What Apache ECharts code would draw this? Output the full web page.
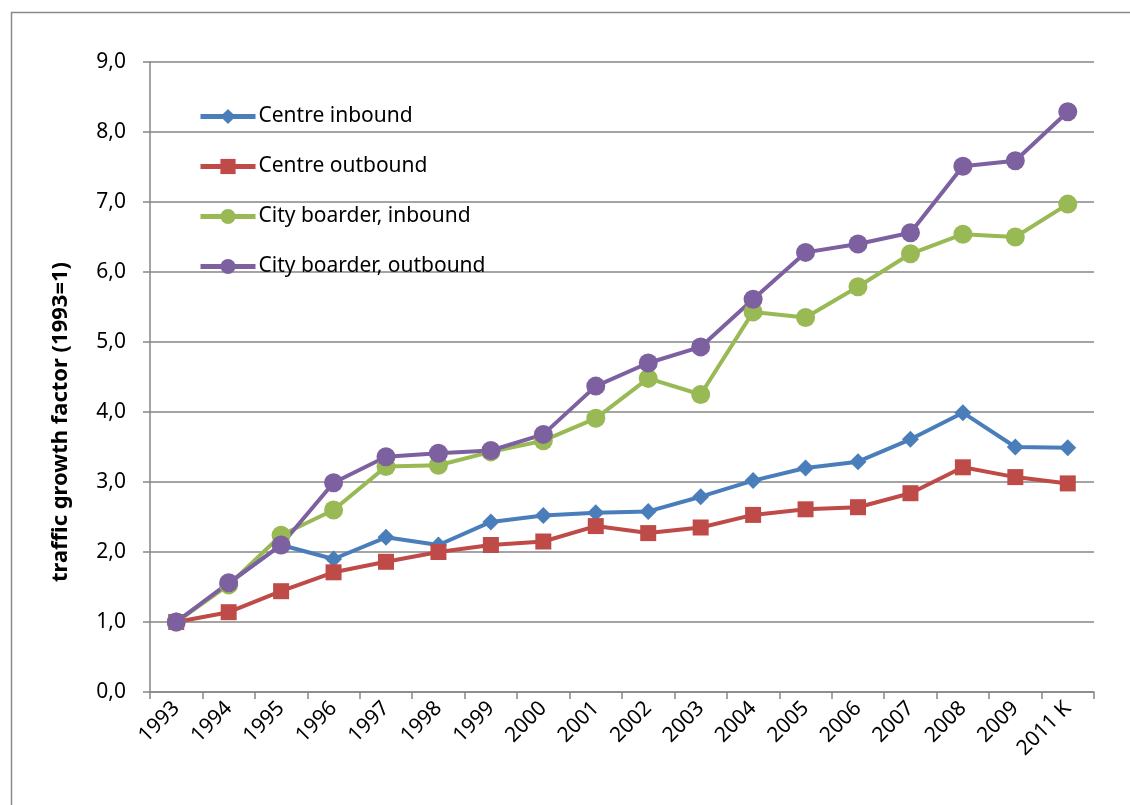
<!DOCTYPE html>
<html>
<head>
<meta charset="utf-8">
<script src="https://cdn.jsdelivr.net/npm/echarts@6/dist/echarts.min.js"></script>
<style>
html,body{margin:0;padding:0;background:#fff;}
#chart{width:1130px;height:805px;}
</style>
</head>
<body>
<div id="chart"></div>
<script>
const categories = ['1993','1994','1995','1996','1997','1998','1999','2000','2001','2002','2003','2004','2005','2006','2007','2008','2009','2011 K'];
const centreInbound = [1.0,1.55,2.1,1.9,2.21,2.1,2.43,2.52,2.56,2.58,2.79,3.02,3.2,3.29,3.61,3.99,3.5,3.49];
const centreOutbound = [1.0,1.14,1.44,1.71,1.86,2.0,2.1,2.15,2.37,2.27,2.35,2.53,2.61,2.64,2.84,3.21,3.07,2.98];
const cityInbound = [1.0,1.53,2.24,2.6,3.22,3.24,3.43,3.59,3.91,4.48,4.25,5.43,5.35,5.79,6.26,6.54,6.5,6.97];
const cityOutbound = [1.0,1.56,2.1,2.99,3.36,3.41,3.45,3.68,4.37,4.7,4.93,5.61,6.28,6.4,6.56,7.51,7.59,8.29];
const seriesNames = ['Centre inbound','Centre outbound','City boarder, inbound','City boarder, outbound'];
const yTicks = {min:0, max:9, interval:1};

const colors = ['#4A7EBB','#BE4B48','#98B954','#7D60A0'];
const font = '"Noto Sans", "Open Sans", sans-serif';

const chart = echarts.init(document.getElementById('chart'));
function mk(name, data, color, symbol, size){
  return {
    name: name, type: 'line', data: data,
    symbol: symbol, symbolSize: size,
    lineStyle: {color: color, width: 4},
    itemStyle: {color: color},
    emphasis: {disabled: true},
    animation: false, z: 3
  };
}
chart.setOption({
  animation: false,
  color: colors,
  graphic: [{
    type: 'rect', left: 9, top: 10, silent: true,
    shape: {width: 1200, height: 900},
    style: {fill: 'none', stroke: '#8a8a8a', lineWidth: 1.5}
  }],
  grid: {left: 150, right: 36, top: 62, bottom: 113, containLabel: false},
  legend: {
    orient: 'vertical', left: 193, top: 101,
    itemWidth: 55, itemHeight: 19, itemGap: 29,
    data: seriesNames,
    lineStyle: {width: 5},
    textStyle: {fontFamily: font, fontSize: 21, color: '#000', padding: [0,0,0,-2]},
    backgroundColor: 'transparent'
  },
  xAxis: {
    type: 'category', data: categories, boundaryGap: true,
    axisLine: {lineStyle: {color: '#868686', width: 1.5}},
    axisTick: {show: true, length: 7, lineStyle: {color: '#868686', width: 1.5}},
    axisLabel: {rotate: 45, fontFamily: font, fontSize: 21, color: '#000', margin: 13, interval: 0}
  },
  yAxis: {
    type: 'value', min: yTicks.min, max: yTicks.max, interval: yTicks.interval,
    name: 'traffic growth factor (1993=1)',
    nameLocation: 'middle', nameGap: 78,
    nameTextStyle: {fontFamily: font, fontSize: 22, fontWeight: 'bold', color: '#000', padding: [0, 90, 0, 0]},
    axisLine: {show: true, lineStyle: {color: '#868686', width: 1.5}},
    axisTick: {show: true, length: 7, lineStyle: {color: '#868686', width: 1.5}},
    splitLine: {lineStyle: {color: '#868686', width: 1.5}},
    axisLabel: {fontFamily: font, fontSize: 21, color: '#000', margin: 24,
      formatter: v => v.toFixed(1).replace('.', ',')}
  },
  series: [
    mk(seriesNames[0], centreInbound, colors[0], 'diamond', 17),
    mk(seriesNames[1], centreOutbound, colors[1], 'rect', 16),
    mk(seriesNames[2], cityInbound, colors[2], 'circle', 19),
    mk(seriesNames[3], cityOutbound, colors[3], 'circle', 19)
  ]
});
</script>
</body>
</html>
